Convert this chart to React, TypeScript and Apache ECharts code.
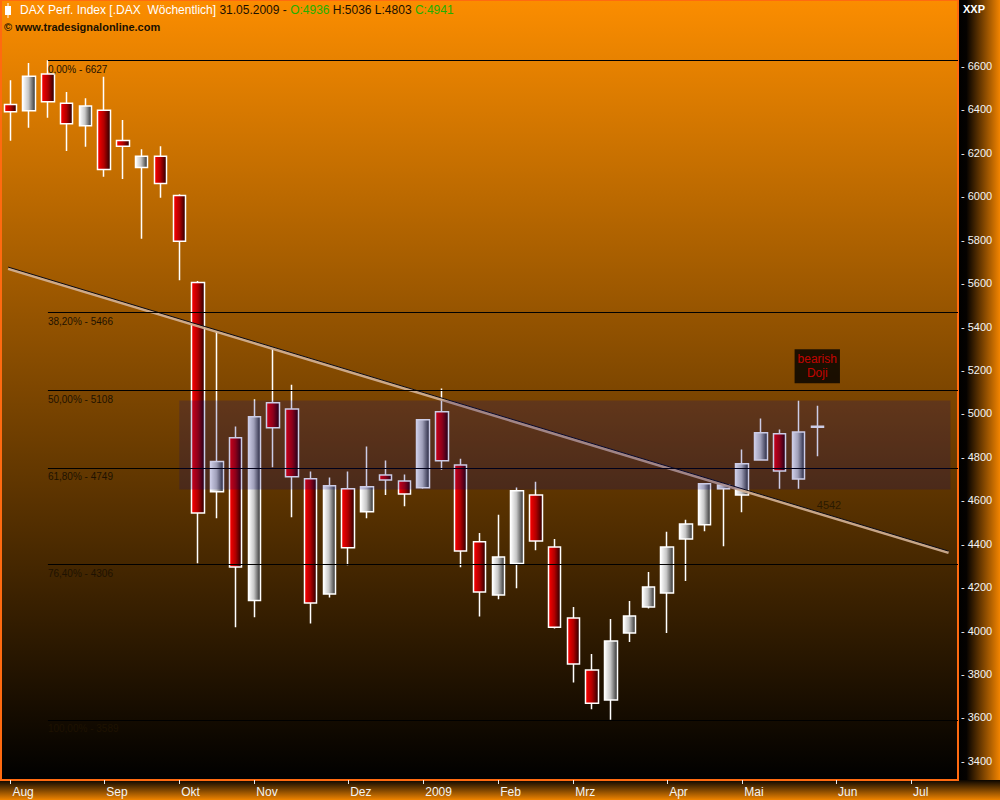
import React, { useEffect, useRef } from 'react';
import * as echarts from 'echarts';

// Week-ending dates (category axis, 44 candles + 7 empty future weeks)
const weeks = [
  '03.08.2008', '10.08.2008', '17.08.2008', '24.08.2008', '31.08.2008',
  '07.09.2008', '14.09.2008', '21.09.2008', '28.09.2008',
  '05.10.2008', '12.10.2008', '19.10.2008', '26.10.2008',
  '02.11.2008', '09.11.2008', '16.11.2008', '23.11.2008', '30.11.2008',
  '07.12.2008', '14.12.2008', '21.12.2008', '28.12.2008',
  '04.01.2009', '11.01.2009', '18.01.2009', '25.01.2009',
  '01.02.2009', '08.02.2009', '15.02.2009', '22.02.2009',
  '01.03.2009', '08.03.2009', '15.03.2009', '22.03.2009', '29.03.2009',
  '05.04.2009', '12.04.2009', '19.04.2009', '26.04.2009',
  '03.05.2009', '10.05.2009', '17.05.2009', '24.05.2009', '31.05.2009',
  '07.06.2009', '14.06.2009', '21.06.2009', '28.06.2009',
  '05.07.2009', '12.07.2009', '19.07.2009',
];

const open = [6423, 6394, 6563, 6429, 6325, 6396, 6257, 6133, 6184, 6004, 5603, 4640, 4888, 4139, 5049, 5021, 4699, 4169, 4653, 4547, 4717, 4689, 4658, 5008, 4763, 4409, 4164, 4309, 4625, 4385, 4058, 3818, 3680, 3989, 4109, 4173, 4422, 4487, 4653, 4625, 4786, 4906, 4698, 4936];
const high = [6535, 6614, 6627, 6480, 6452, 6551, 6351, 6217, 6231, 6010, 5610, 5378, 4940, 5065, 5298, 5132, 4733, 4705, 4733, 4848, 4783, 4719, 4975, 5115, 4791, 4450, 4534, 4659, 4686, 4422, 4109, 3892, 4053, 4136, 4270, 4455, 4510, 4680, 4680, 4834, 4977, 4926, 5058, 5036];
const low = [6256, 6316, 6362, 6209, 6228, 6090, 6080, 5804, 5993, 5613, 4310, 4517, 4015, 4061, 4752, 4522, 4033, 4153, 4301, 4517, 4625, 4573, 4653, 4741, 4292, 4065, 4144, 4195, 4370, 4010, 3761, 3638, 3589, 3948, 4102, 3989, 4228, 4457, 4388, 4545, 4782, 4653, 4653, 4803];
const close = [6389, 6553, 6435, 6334, 6416, 6124, 6230, 6184, 6059, 5793, 4542, 4779, 4293, 4985, 4934, 4708, 4127, 4667, 4381, 4662, 4694, 4629, 4971, 4782, 4367, 4178, 4339, 4644, 4413, 4016, 3846, 3666, 3952, 4067, 4201, 4385, 4491, 4676, 4671, 4768, 4911, 4735, 4915, 4941];

const yTicks = [3400, 3600, 3800, 4000, 4200, 4400, 4600, 4800, 5000, 5200, 5400, 5600, 5800, 6000, 6200, 6400, 6600];
const monthNames = ['2009', 'Feb', 'Mrz', 'Apr', 'Mai', 'Jun', 'Jul', 'Aug', 'Sep', 'Okt', 'Nov', 'Dez'];

const fibPct = ['0,00%', '38,20%', '50,00%', '61,80%', '76,40%', '100,00%'];
const fibVal = [6627, 5466, 5108, 4749, 4306, 3589];
const fibStartIdx = 2;

const trendX = [-0.12, 50.0];
const trendY = [5667, 4359];

const zoneX = [9, 50.1];
const zoneY = [5060, 4650];

const trendLabelIdx = 43;
const trendLabelVal = 4542;
const noteIdx = 43;
const noteVal = 5217;
const noteText = 'bearish\nDoji';

const yMin = 3312;
const yMax = 6904;

export default function App() {
  const ref = useRef<HTMLDivElement>(null);

  useEffect(() => {
    const chart = echarts.init(ref.current!, null, { renderer: 'svg' });

    const isMonthStart = (i: number) => {
      const d = parseInt(weeks[i].slice(0, 2), 10);
      return d <= 7;
    };
    const monthLabel = (v: string) => {
      const m = parseInt(v.slice(3, 5), 10);
      return monthNames[m - 1] || '';
    };

    const candleData = open.map((o, i) => [o, close[i], low[i], high[i]]);
    const last = open.length - 1;

    const white = new echarts.graphic.LinearGradient(0, 0, 1, 0, [
      { offset: 0, color: '#ffffff' },
      { offset: 0.45, color: '#c8c8c8' },
      { offset: 1, color: '#2c2c2c' },
    ]);
    const red = new echarts.graphic.LinearGradient(0, 0, 1, 0, [
      { offset: 0, color: '#ff0000' },
      { offset: 0.5, color: '#b00000' },
      { offset: 1, color: '#250000' },
    ]);

    const font = 'Liberation Sans, Arial, sans-serif';

    const option: any = {
      animation: false,
      backgroundColor: '#000',
      grid: {
        left: 1,
        right: 42,
        top: 0,
        bottom: 20,
        show: true,
        borderColor: '#ff6a10',
        borderWidth: 2,
        backgroundColor: new echarts.graphic.LinearGradient(0, 0, 0, 1, [
          { offset: 0, color: '#fb8d00' },
          { offset: 1, color: '#000000' },
        ]),
      },
      xAxis: [
        {
          type: 'category',
          data: weeks,
          boundaryGap: true,
          axisLine: { show: false },
          axisTick: {
            show: true,
            alignWithLabel: true,
            interval: (i: number) => isMonthStart(i),
            length: 4,
            lineStyle: { color: '#e8e8e8', width: 1 },
          },
          axisLabel: {
            interval: (i: number) => isMonthStart(i),
            formatter: (v: string) => monthLabel(v),
            color: '#f4f4f4',
            fontFamily: 'Liberation Sans Narrow, Liberation Sans, sans-serif',
            fontSize: 12,
            align: 'left',
            margin: 6,
            padding: [0, 0, 0, 2],
          },
          splitLine: { show: false },
        },
        {
          type: 'value',
          min: -0.5,
          max: 50.5,
          show: false,
        },
      ],
      yAxis: {
        type: 'value',
        position: 'right',
        min: yMin,
        max: yMax,
        axisLine: { show: false },
        splitLine: { show: false },
        axisTick: { show: false },
        axisLabel: {
          customValues: yTicks,
          formatter: (v: number) => '- ' + String(v),
          color: '#f4f4f4',
          fontFamily: font,
          fontSize: 11,
          margin: 3,
        },
      },
      graphic: [
        {
          type: 'rect',
          shape: { x: 958, y: 0, width: 42, height: 800 },
          style: {
            fill: new echarts.graphic.LinearGradient(0, 0, 1, 0, [
              { offset: 0, color: '#000000' },
              { offset: 0.2, color: '#050200' },
              { offset: 1, color: '#f28400' },
            ]),
          },
          z: -5,
          silent: true,
        },
        {
          type: 'rect',
          shape: { x: 0, y: 780, width: 1000, height: 20 },
          style: {
            fill: new echarts.graphic.LinearGradient(0, 0, 0, 1, [
              { offset: 0, color: '#0a0500' },
              { offset: 1, color: '#f08400' },
            ]),
          },
          z: -4,
          silent: true,
        },
        // header icon
        { type: 'line', shape: { x1: 8, y1: 3, x2: 8, y2: 18 }, style: { stroke: '#fff', lineWidth: 1 }, z: 100 },
        { type: 'rect', shape: { x: 5, y: 6, width: 6, height: 9 }, style: { fill: '#fff' }, z: 100 },
        {
          type: 'text',
          x: 20,
          y: 4,
          z: 100,
          style: {
            text:
              '{w|DAX Perf. Index [.DAX  Wöchentlich]} {d|' +
              weeks[last] +
              ' -} {g|O:' + open[last] + '} {d|H:' + high[last] + ' L:' + low[last] + '} {g|C:' + close[last] + '}',
            font: '12px ' + font,
            rich: {
              w: { fill: '#ffffff', fontSize: 12, fontFamily: font },
              d: { fill: '#1a1000', fontSize: 12, fontFamily: font },
              g: { fill: '#22b000', fontSize: 12, fontFamily: font },
            },
          },
        },
        {
          type: 'text',
          x: 4,
          y: 21,
          z: 100,
          style: {
            text: '© www.tradesignalonline.com',
            fill: '#1a1000',
            font: 'bold 11px ' + font,
          },
        },
        {
          type: 'text',
          x: 963,
          y: 3,
          z: 100,
          style: { text: 'XXP', fill: '#ffffff', font: 'bold 11px ' + font },
        },
      ],
      series: [
        {
          type: 'candlestick',
          xAxisIndex: 0,
          yAxisIndex: 0,
          data: candleData,
          barWidth: 13,
          z: 2,
          itemStyle: {
            color: white,
            color0: red,
            borderColor: '#ffffff',
            borderColor0: '#ffffff',
            borderWidth: 1.5,
          },
        },
        {
          type: 'line',
          xAxisIndex: 1,
          yAxisIndex: 0,
          data: trendX.map((x, i) => [x, trendY[i]]),
          symbol: 'none',
          z: 3,
          lineStyle: { color: '#d4b296', width: 3, opacity: 0.9 },
          markLine: {
            silent: true,
            symbol: ['none', 'none'],
            z: 4,
            lineStyle: { color: '#000000', width: 1, type: 'solid' },
            label: {
              show: true,
              position: 'insideStartBottom',
              formatter: (p: any) => p.name,
              color: '#1e1200',
              fontFamily: font,
              fontSize: 10,
              distance: [0, 4],
            },
            data: fibVal.map((v, i) => [
              { coord: [fibStartIdx, v], name: fibPct[i] + ' - ' + v },
              { coord: [50.5, v] },
            ]),
          },
          markArea: {
            silent: true,
            z: 6,
            itemStyle: { color: 'rgba(0,0,128,0.2)' },
            data: [[{ coord: [zoneX[0], zoneY[0]] }, { coord: [zoneX[1], zoneY[1]] }]],
          },
        },
        {
          type: 'line',
          xAxisIndex: 1,
          yAxisIndex: 0,
          data: trendX.map((x, i) => [x, trendY[i] + 7]),
          symbol: 'none',
          z: 3,
          lineStyle: { color: '#0a0a14', width: 1 },
        },
        {
          type: 'scatter',
          xAxisIndex: 1,
          yAxisIndex: 0,
          z: 8,
          symbolSize: 1,
          itemStyle: { color: 'rgba(0,0,0,0)' },
          data: [
            {
              value: [trendLabelIdx, trendLabelVal],
              label: {
                show: true,
                formatter: String(trendLabelVal),
                position: [0, -13],
                color: '#1e1400',
                fontFamily: font,
                fontSize: 11,
              },
            },
            {
              value: [noteIdx, noteVal],
              label: {
                show: true,
                formatter: noteText,
                position: 'inside',
                align: 'center',
                verticalAlign: 'middle',
                color: '#ee0000',
                backgroundColor: '#000000',
                padding: [3, 3, 3, 3],
                lineHeight: 14,
                fontFamily: font,
                fontSize: 12,
              },
            },
          ],
        },
      ],
    };

    chart.setOption(option);
    return () => chart.dispose();
  }, []);

  return (
    <div
      ref={ref}
      style={{ position: 'absolute', left: 0, top: 0, width: 1000, height: 800 }}
    />
  );
}
